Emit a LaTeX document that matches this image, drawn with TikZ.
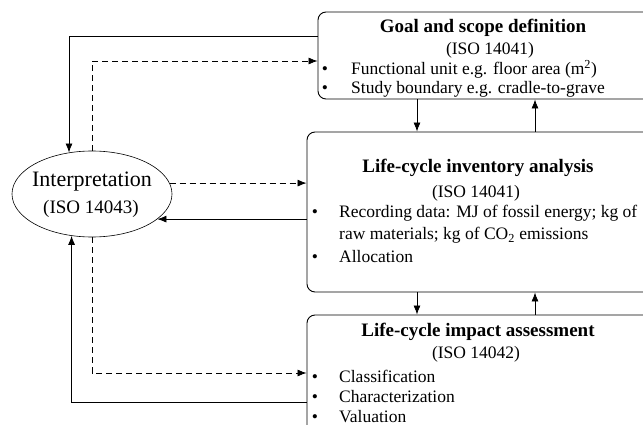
\documentclass[tikz,border=0pt]{standalone}
\usepackage{fontspec}
\setmainfont{LiberationSerif}[Extension=.ttf, UprightFont=*-Regular, BoldFont=*-Bold, ItalicFont=*-Italic, BoldItalicFont=*-BoldItalic]
\usetikzlibrary{arrows.meta,shapes.geometric}

\tikzset{
  box/.style={draw, line width=0.9pt, rounded corners=8pt, inner sep=0pt},
  arr/.style={line width=0.8pt, -{Latex[length=9pt,width=7pt]}},
  dsh/.style={arr, dash pattern=on 6pt off 4pt},
  body/.style={inner sep=0pt, font=\fontsize{17.5}{20}\selectfont},
  ttl/.style={inner sep=0pt, anchor=base, font=\fontsize{19}{22}\selectfont\bfseries},
  iso/.style={body, anchor=base},
  item/.style={body, anchor=base west},
  bul/.style={body, anchor=base},
}

\begin{document}
\begin{tikzpicture}[x=1pt,y=-1pt]
\clip (0,0) rectangle (643,425);
\fill[white] (0,0) rectangle (643,425);

% the three ISO stage boxes (running off the right edge)
\node[box, minimum width=342pt, minimum height=87pt] (top) at (489,55.5) {};
\node[box, minimum width=353pt, minimum height=160pt] (mid) at (483.5,212) {};
\node[box, minimum width=353pt, minimum height=140pt] (bot) at (483.5,385) {};

% interpretation ellipse
\node[draw, ellipse, line width=0.6pt, minimum width=160pt, minimum height=86pt, inner sep=0pt] (el) at (92,194) {};
\node[inner sep=0pt, anchor=base, font=\fontsize{22}{26}\selectfont] (elt) at (92,187) {Interpretation};
\node[inner sep=0pt, anchor=base, font=\fontsize{19}{22}\selectfont] (eli) at (91,213) {(ISO 14043)};

% goal and scope
\node[ttl] (t1) at (483,33) {Goal and scope definition};
\node[iso] (i1) at (490,55) {(ISO 14041)};
\node[bul] (b1a) at (325,75) {\textbullet};
\node[item] (l1a) at (351,75) {Functional unit e.g. floor area (m\textsuperscript{2})};
\node[bul] (b1b) at (325,94) {\textbullet};
\node[item] (l1b) at (351,94) {Study boundary e.g. cradle-to-grave};

% inventory analysis
\node[ttl] (t2) at (478,173) {Life-cycle inventory analysis};
\node[iso] (i2) at (476,197) {(ISO 14041)};
\node[bul] (b2a) at (315,218) {\textbullet};
\node[item] (l2a) at (339,218) {Recording data: MJ of fossil energy; kg of};
\node[item] (l2b) at (339,240) {raw materials; kg of CO\textsubscript{2} emissions};
\node[bul] (b2c) at (315,262) {\textbullet};
\node[item] (l2c) at (339,262) {Allocation};

% impact assessment
\node[ttl] (t3) at (478,336) {Life-cycle impact assessment};
\node[iso] (i3) at (476,358) {(ISO 14042)};
\node[bul] (b3a) at (315,382) {\textbullet};
\node[item] (l3a) at (339,382) {Classification};
\node[bul] (b3b) at (315,402) {\textbullet};
\node[item] (l3b) at (339,402) {Characterization};
\node[bul] (b3c) at (315,422) {\textbullet};
\node[item] (l3c) at (339,422) {Valuation};

% links between the stages
\draw[arr] (top.south -| 417,0) -- (mid.north -| 417,0);
\draw[arr] (mid.north -| 535,0) -- (top.south -| 535,0);
\draw[arr] (mid.south -| 417,0) -- (bot.north -| 417,0);
\draw[arr] (bot.north -| 535,0) -- (mid.south -| 535,0);

% links to and from interpretation
\draw[arr] (top.west |- 0,36) -| (el.119.2);
\draw[dsh] (el.north) |- (top.west |- 0,61);
\draw[dsh] (el.8.1) -- (el.8.1 -| mid.west);
\draw[arr] (el.-21 -| mid.west) -- (el.-21);
\draw[dsh] (el.south) |- (bot.west |- 0,373);
\draw[arr] (bot.west |- 0,402) -| (el.244.3);
\end{tikzpicture}
\end{document}
